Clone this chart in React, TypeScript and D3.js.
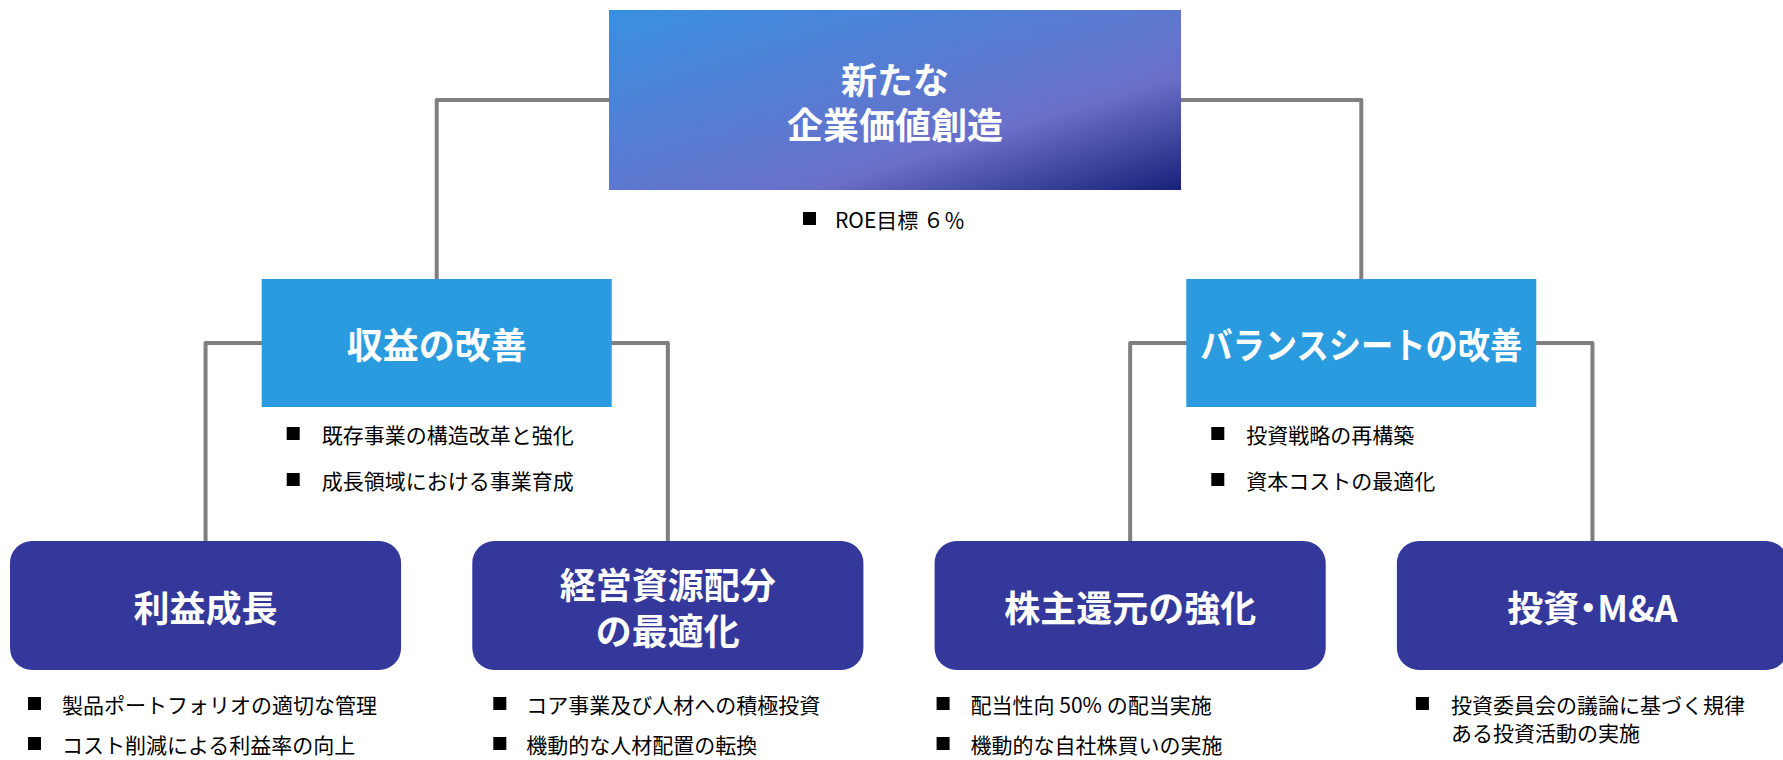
import { useEffect, useRef } from 'react';
import * as d3 from 'd3';

const ROOT_TITLE = ['新たな', '企業価値創造'];
const ROOT_NOTES = ['ROE目標 ６％'];

const PILLARS = [['収益の改善'], ['バランスシートの改善']];
const PILLAR_NOTES = [
  ['既存事業の構造改革と強化', '成長領域における事業育成'],
  ['投資戦略の再構築', '資本コストの最適化'],
];

const ACTIONS = [['利益成長'], ['経営資源配分', 'の最適化'], ['株主還元の強化'], ['投資・M&A']];
const ACTION_PARENT = [0, 0, 1, 1];
const ACTION_NOTES = [
  [['製品ポートフォリオの適切な管理'], ['コスト削減による利益率の向上']],
  [['コア事業及び人材への積極投資'], ['機動的な人材配置の転換']],
  [['配当性向 50% の配当実施'], ['機動的な自社株買いの実施']],
  [['投資委員会の議論に基づく規律', 'ある投資活動の実施']],
];

const W = 1783;
const H = 760;
const FONT = '"Noto Sans CJK JP", "Noto Sans", sans-serif';
const LINE = '#7f7f7f';

// layout
const ROOT_BOX = { top: 10, h: 180, w: 572 };
const PILLAR_BOX = { top: 279, h: 128, w: 350 };
const ACTION_BOX = { top: 541, h: 129 };
const ACTION_BULLET_DX = [18, 21, 2, 19];
const ACTION_TEXT_DX = [52, 54, 36, 54];

type G = d3.Selection<SVGGElement, unknown, null, undefined>;

export default function App() {
  const svgRef = useRef<SVGSVGElement>(null);

  useEffect(() => {
    const svg = d3.select(svgRef.current);
    if (!svg.node()) return;
    svg.selectAll('*').remove();

    const x = d3
      .scaleBand<number>()
      .domain(d3.range(ACTIONS.length))
      .range([10, 1788])
      .paddingInner(0.154);
    const bw = x.bandwidth();
    const actionCx = ACTIONS.map((_, i) => x(i)! + bw / 2);
    const pillarCx = PILLARS.map((_, p) =>
      d3.mean(actionCx.filter((_, i) => ACTION_PARENT[i] === p))!,
    );
    const rootCx = d3.mean(pillarCx)!;
    const rootCy = ROOT_BOX.top + ROOT_BOX.h / 2;
    const pillarCy = PILLAR_BOX.top + PILLAR_BOX.h / 2;
    const actionCy = ACTION_BOX.top + ACTION_BOX.h / 2;

    const defs = svg.append('defs');
    const grad = defs
      .append('linearGradient')
      .attr('id', 'rootGrad')
      .attr('x1', 0)
      .attr('y1', 0)
      .attr('x2', 1)
      .attr('y2', 1);
    grad.append('stop').attr('offset', '0%').attr('stop-color', '#3990e0');
    grad.append('stop').attr('offset', '68%').attr('stop-color', '#6a6fc9');
    grad.append('stop').attr('offset', '100%').attr('stop-color', '#17217a');

    // connectors
    const links = svg
      .append('g')
      .attr('fill', 'none')
      .attr('stroke', LINE)
      .attr('stroke-width', 4)
      .attr('stroke-linejoin', 'round');
    pillarCx.forEach((px) => {
      links.append('path').attr('d', `M${px},${PILLAR_BOX.top + 4}V${rootCy}H${rootCx}`);
    });
    actionCx.forEach((ax, i) => {
      const px = pillarCx[ACTION_PARENT[i]];
      links.append('path').attr('d', `M${ax},${ACTION_BOX.top + 4}V${pillarCy}H${px}`);
    });

    const title = (g: G, lines: string[], cx: number, cy: number, maxW: number, gap: number) => {
      lines.forEach((t, k) => {
        const el = g
          .append('text')
          .attr('x', cx)
          .attr('y', cy + (k - (lines.length - 1) / 2) * gap)
          .attr('text-anchor', 'middle')
          .attr('dominant-baseline', 'central')
          .attr('fill', '#ffffff')
          .attr('font-family', FONT)
          .attr('font-weight', 700)
          .attr('font-size', 36);
        // the original face sets the middle dot tight
        const parts = t.split('・');
        parts.forEach((part, j) => {
          if (j > 0) el.append('tspan').attr('dx', -9).text('・');
          el.append('tspan').attr('dx', j > 0 ? -9 : null).text(part);
        });
        const len = (el.node() as SVGTextElement).getComputedTextLength();
        if (len > maxW) el.attr('textLength', maxW).attr('lengthAdjust', 'spacingAndGlyphs');
      });
    };

    const bullet = (g: G, lines: string[], bx: number, tx: number, y: number, wrapGap: number) => {
      g.append('rect')
        .attr('x', bx)
        .attr('y', y - 7)
        .attr('width', 13)
        .attr('height', 13)
        .attr('fill', '#000000');
      lines.forEach((t, k) => {
        g.append('text')
          .attr('x', tx)
          .attr('y', y + k * wrapGap)
          .attr('dominant-baseline', 'central')
          .attr('fill', '#000000')
          .attr('font-family', FONT)
          .attr('font-size', 21)
          .text(t);
      });
    };

    // root
    const root = svg.append('g');
    root
      .append('rect')
      .attr('x', rootCx - ROOT_BOX.w / 2 - 4)
      .attr('y', ROOT_BOX.top)
      .attr('width', ROOT_BOX.w)
      .attr('height', ROOT_BOX.h)
      .attr('fill', 'url(#rootGrad)');
    title(root, ROOT_TITLE, rootCx - 4, rootCy, ROOT_BOX.w - 40, 45);
    ROOT_NOTES.forEach((n, k) => {
      bullet(root, [n], rootCx - 96, rootCx - 64, 219 + k * 40, 28);
    });

    // pillars
    PILLARS.forEach((lines, p) => {
      const g = svg.append('g');
      const left = pillarCx[p] - PILLAR_BOX.w / 2;
      g.append('rect')
        .attr('x', left)
        .attr('y', PILLAR_BOX.top)
        .attr('width', PILLAR_BOX.w)
        .attr('height', PILLAR_BOX.h)
        .attr('fill', '#2b9be0');
      title(g, lines, pillarCx[p], pillarCy, PILLAR_BOX.w - 28, 45);
      PILLAR_NOTES[p].forEach((n, k) => {
        bullet(g, [n], left + 25, left + 60, PILLAR_BOX.top + PILLAR_BOX.h + 27 + k * 46, 28);
      });
    });

    // actions
    ACTIONS.forEach((lines, i) => {
      const g = svg.append('g');
      const left = x(i)!;
      g.append('rect')
        .attr('x', left)
        .attr('y', ACTION_BOX.top)
        .attr('width', bw)
        .attr('height', ACTION_BOX.h)
        .attr('rx', 22)
        .attr('ry', 22)
        .attr('fill', '#34389a');
      title(g, lines, actionCx[i], actionCy, bw - 30, 46);
      ACTION_NOTES[i].forEach((n, k) => {
        bullet(
          g,
          n,
          left + ACTION_BULLET_DX[i],
          left + ACTION_TEXT_DX[i],
          ACTION_BOX.top + ACTION_BOX.h + 34 + k * 40,
          28,
        );
      });
    });
  }, []);

  return (
    <svg
      ref={svgRef}
      width={W}
      height={H}
      viewBox={`0 0 ${W} ${H}`}
      style={{ position: 'absolute', left: 0, top: 0, background: '#ffffff' }}
    />
  );
}
